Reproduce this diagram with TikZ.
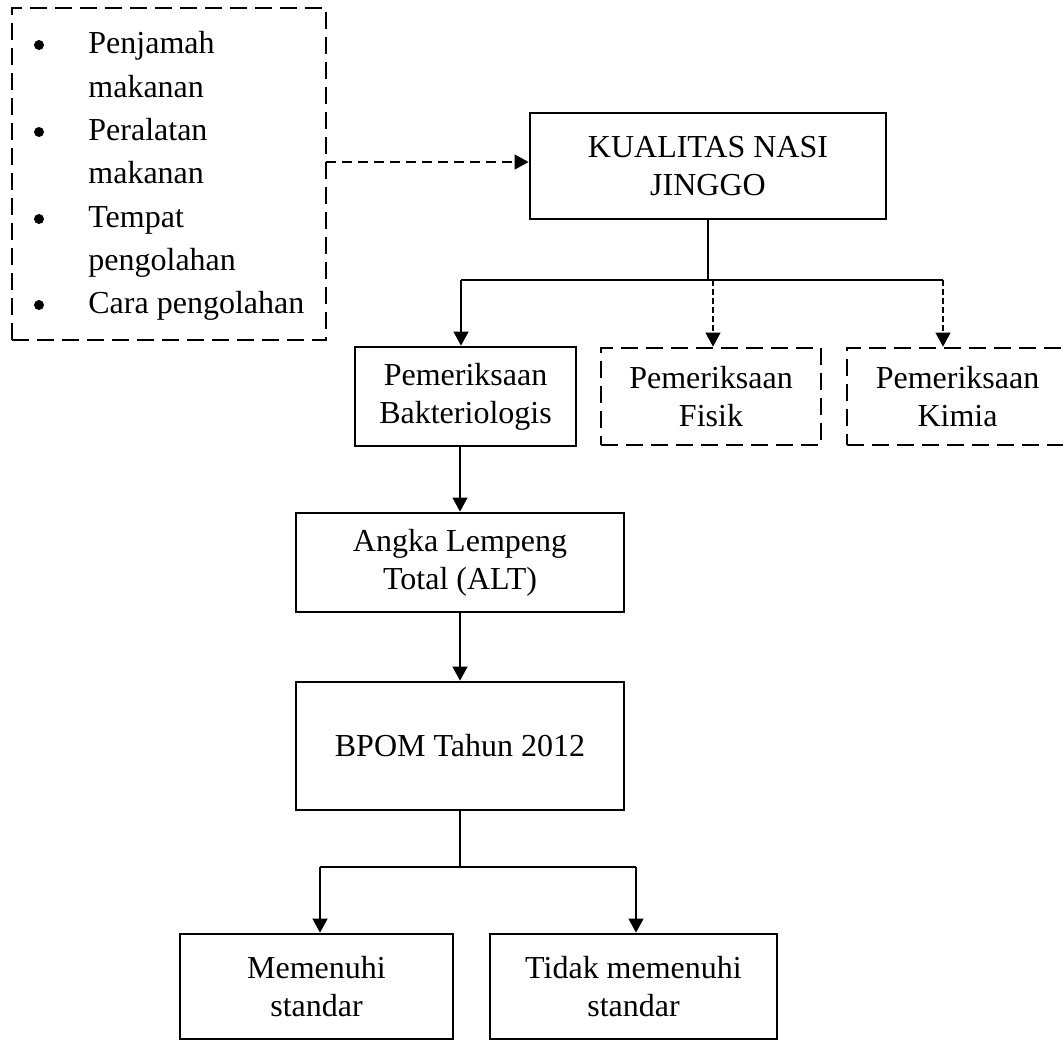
\documentclass[tikz,border=0pt]{standalone}
\usepackage{fontspec}
\setmainfont{Liberation Serif}
\usetikzlibrary{arrows.meta}
\begin{document}
\begin{tikzpicture}[x=0.5pt,y=-0.5pt,
  every node/.style={font=\fontsize{16}{19}\selectfont},
  solidbox/.style={draw,line width=1.4pt,align=center,inner sep=0pt},
  dashbox/.style={draw,line width=1.4pt,align=center,inner sep=0pt,dash pattern=on 8.5pt off 4pt},
  conn/.style={line width=0.55pt},
  arr/.style={line width=0.55pt,-{Triangle[length=7pt,width=7.5pt]}},
  darr/.style={line width=0.55pt,dash pattern=on 3pt off 1.5pt,-{Triangle[length=7pt,width=7.5pt]}},
  harr/.style={line width=0.6pt,dash pattern=on 5pt off 3pt,-{Triangle[length=7pt,width=7.5pt]}},
  bul/.style={circle,fill,inner sep=0pt,minimum size=5pt},
  item/.style={anchor=base west,inner sep=0pt}
]
\useasboundingbox (0,0) rectangle (1063,1041);

% factors box
\node[dashbox,minimum width=157pt,minimum height=166pt] (factors) at (169,174) {};
\node[bul] (b1) at (39,45) {};
\node[bul] (b2) at (39,132) {};
\node[bul] (b3) at (39,219) {};
\node[bul] (b4) at (39,305) {};
\node[item] (t1) at (88,53) {Penjamah};
\node[item] (t2) at (88,97) {makanan};
\node[item] (t3) at (88,140) {Peralatan};
\node[item] (t4) at (88,183) {makanan};
\node[item] (t5) at (88,227) {Tempat};
\node[item] (t6) at (88,270) {pengolahan};
\node[item] (t7) at (88,313) {Cara pengolahan};

% main nodes
\node[solidbox,minimum width=178pt,minimum height=53pt] (kual) at (708,166) {KUALITAS NASI\\JINGGO};
\node[solidbox,minimum width=110.5pt,minimum height=49.5pt] (bakt) at (465.5,396.5) {Pemeriksaan\\Bakteriologis};
\node[dashbox,minimum width=110pt,minimum height=48.5pt] (fisik) at (711,396.5) {Pemeriksaan\\Fisik};
\node[dashbox,minimum width=110.5pt,minimum height=48.5pt] (kimia) at (957.5,396.5) {Pemeriksaan\\Kimia};
\node[solidbox,minimum width=164pt,minimum height=49.5pt] (alt) at (460,562.5) {Angka Lempeng\\Total (ALT)};
\node[solidbox,minimum width=164pt,minimum height=64pt] (bpom) at (460,746) {BPOM Tahun 2012};
\node[solidbox,minimum width=136.5pt,minimum height=52.5pt] (mem) at (316.5,986.5) {Memenuhi\\standar};
\node[solidbox,minimum width=143.5pt,minimum height=52.5pt] (tidak) at (633.5,986.5) {Tidak memenuhi\\standar};

% connectors
\coordinate (h1) at (326,162);
\draw[harr] (h1) -- (h1 -| kual.west);

\coordinate (j1) at (708,280);
\coordinate (bL) at (461,280);
\coordinate (bM) at (713,280);
\coordinate (bR) at (943,280);
\draw[conn] (kual.south) -- (j1);
\draw[conn] (bL) -- (bR);
\draw[arr] (bL) -- (bL |- bakt.north);
\draw[darr] (bM) -- (bM |- fisik.north);
\draw[darr] (bR) -- (bR |- kimia.north);

\draw[arr] (alt.north |- bakt.south) -- (alt.north);
\draw[arr] (alt.south) -- (bpom.north);

\coordinate (j2) at (460,867);
\coordinate (cL) at (320,867);
\coordinate (cR) at (636,867);
\draw[conn] (bpom.south) -- (j2);
\draw[conn] (cL) -- (cR);
\draw[arr] (cL) -- (cL |- mem.north);
\draw[arr] (cR) -- (cR |- tidak.north);
\end{tikzpicture}
\end{document}
